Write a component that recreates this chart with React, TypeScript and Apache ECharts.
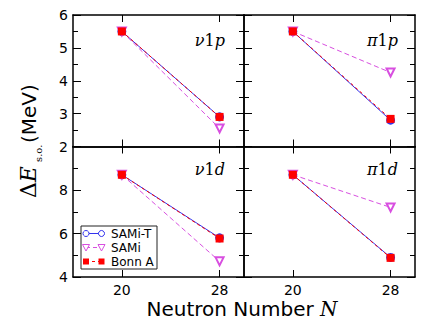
import React, { useEffect, useRef } from "react";
import * as echarts from "echarts";

const neutronNumbers = [20, 28];
const xTickValues = [20, 28];

// nu 1p
const nu1pSamiT = [5.5, 2.9];
const nu1pSami = [5.5, 2.55];
const nu1pBonnA = [5.5, 2.9];
// pi 1p
const pi1pSamiT = [5.5, 2.8];
const pi1pSami = [5.5, 4.25];
const pi1pBonnA = [5.5, 2.84];
// nu 1d
const nu1dSamiT = [8.7, 5.8];
const nu1dSami = [8.7, 4.72];
const nu1dBonnA = [8.7, 5.77];
// pi 1d
const pi1dSamiT = [8.7, 4.9];
const pi1dSami = [8.7, 7.2];
const pi1dBonnA = [8.7, 4.88];

const panelLabels = [
  ["\u03bd", "1", "p"],
  ["\u03c0", "1", "p"],
  ["\u03bd", "1", "d"],
  ["\u03c0", "1", "d"],
];

const legendNames = ["SAMi-T", "SAMi", "Bonn A"];
const topYTicks = [2, 3, 4, 5, 6];
const bottomYTicks = [4, 6, 8];

const BLUE = "#3333ee";
const MAGENTA = "#d84fe0";
const RED = "#ff0000";

export default function App() {
  const ref = useRef<HTMLDivElement>(null);

  useEffect(() => {
    document.body.style.margin = "0";
    const chart = echarts.init(ref.current!, undefined, { renderer: "svg" });

    const grids = [
      { left: 73, top: 15, width: 171, height: 131.5 },
      { left: 244, top: 15, width: 171, height: 131.5 },
      { left: 73, top: 146.5, width: 171, height: 130.5 },
      { left: 244, top: 146.5, width: 171, height: 130.5 },
    ];

    const panels = [
      { samiT: nu1pSamiT, sami: nu1pSami, bonn: nu1pBonnA },
      { samiT: pi1pSamiT, sami: pi1pSami, bonn: pi1pBonnA },
      { samiT: nu1dSamiT, sami: nu1dSami, bonn: nu1dBonnA },
      { samiT: pi1dSamiT, sami: pi1dSami, bonn: pi1dBonnA },
    ];

    const axisLine = { show: true, lineStyle: { color: "#000", width: 1.5 } };
    const tickFont = { fontFamily: "DejaVu Sans", fontSize: 14, color: "#000" };

    const xAxes: any[] = [];
    const yAxes: any[] = [];
    for (let pos = 0; pos < 2; pos++) {
      for (let i = 0; i < 4; i++) {
        const isTopPanel = i < 2;
        xAxes.push({
          type: "value",
          gridIndex: i,
          position: pos === 0 ? "bottom" : "top",
          min: 16,
          max: 30,
          axisLine,
          splitLine: { show: false },
          axisTick: {
            show: true,
            inside: true,
            length: 7,
            customValues: xTickValues,
            lineStyle: { color: "#000", width: 1 },
          },
          axisLabel: {
            show: pos === 0 && !isTopPanel,
            customValues: xTickValues,
            margin: 6,
            ...tickFont,
          },
        });
      }
    }
    for (let pos = 0; pos < 2; pos++) {
      for (let i = 0; i < 4; i++) {
        const isTopPanel = i < 2;
        const isLeftCol = i % 2 === 0;
        yAxes.push({
          type: "value",
          gridIndex: i,
          position: pos === 0 ? "left" : "right",
          min: isTopPanel ? 2 : 4,
          max: isTopPanel ? 6 : 10,
          interval: isTopPanel ? 1 : 2,
          axisLine,
          splitLine: { show: false },
          axisTick: {
            show: true,
            inside: true,
            length: 8,
            lineStyle: { color: "#000", width: 1 },
          },
          minorTick: {
            show: true,
            splitNumber: 2,
            length: 5,
            lineStyle: { color: "#000", width: 1 },
          },
          minorSplitLine: { show: false },
          axisLabel: {
            show: pos === 0 && isLeftCol,
            customValues: isTopPanel ? topYTicks : bottomYTicks,
            margin: 5,
            ...tickFont,
          },
        });
      }
    }

    const series: any[] = [];
    panels.forEach((p, i) => {
      series.push({
        name: legendNames[0],
        type: "line",
        xAxisIndex: i,
        yAxisIndex: i,
        data: neutronNumbers.map((n, k) => [n, p.samiT[k]]),
        symbol: "emptyCircle",
        symbolSize: 7,
        itemStyle: { color: BLUE, borderWidth: 1 },
        lineStyle: { color: BLUE, width: 1 },
        z: 2,
      });
      series.push({
        name: legendNames[1],
        type: "line",
        xAxisIndex: i,
        yAxisIndex: i,
        data: neutronNumbers.map((n, k) => [n, p.sami[k]]),
        symbol: "emptyTriangle",
        symbolRotate: 180,
        symbolSize: 8,
        itemStyle: { color: MAGENTA, borderWidth: 1 },
        lineStyle: { color: MAGENTA, width: 1, type: [5, 3] },
        z: 3,
      });
      series.push({
        name: legendNames[2],
        type: "line",
        xAxisIndex: i,
        yAxisIndex: i,
        data: neutronNumbers.map((n, k) => [n, p.bonn[k]]),
        symbol: "rect",
        symbolSize: 8,
        itemStyle: { color: RED },
        lineStyle: { color: RED, width: 1, type: [3, 3] },
        z: 4,
      });
    });

    const labelPos = [
      { x: 225, y: 40 },
      { x: 398, y: 40 },
      { x: 225, y: 169 },
      { x: 398, y: 169 },
    ];
    const panelTexts = panelLabels.map((l, i) => ({
      type: "text",
      x: labelPos[i].x,
      y: labelPos[i].y,
      style: {
        text: `{i|${l[0]}}{n|${l[1]}}{i|${l[2]}}`,
        align: "right",
        verticalAlign: "middle",
        rich: {
          i: { fontFamily: "DejaVu Serif", fontStyle: "italic", fontSize: 16, fill: "#000" },
          n: { fontFamily: "DejaVu Serif", fontSize: 16, fill: "#000" },
        },
      },
    }));

    // custom legend (marker - line - marker style)
    const lx0 = 86;
    const lx1 = 101.5;
    const rows = [233.5, 247.5, 261.5];
    const tri = (cx: number, cy: number) => [
      [cx - 3.5, cy - 3],
      [cx + 3.5, cy - 3],
      [cx, cy + 3.5],
    ];
    const legendGraphic: any[] = [
      {
        type: "rect",
        z: 100,
        shape: { x: 81, y: 226, width: 76, height: 43 },
        style: { fill: "#fff", stroke: "#222", lineWidth: 1 },
      },
      {
        type: "line",
        z: 101,
        shape: { x1: lx0, y1: rows[0], x2: lx1, y2: rows[0] },
        style: { stroke: BLUE, lineWidth: 1 },
      },
      ...[lx0, lx1].map((cx) => ({
        type: "circle",
        z: 102,
        shape: { cx, cy: rows[0], r: 3 },
        style: { fill: "#fff", stroke: BLUE, lineWidth: 1 },
      })),
      {
        type: "line",
        z: 101,
        shape: { x1: lx0, y1: rows[1], x2: lx1, y2: rows[1] },
        style: { stroke: MAGENTA, lineWidth: 1, lineDash: [4, 3] },
      },
      ...[lx0, lx1].map((cx) => ({
        type: "polygon",
        z: 102,
        shape: { points: tri(cx, rows[1]) },
        style: { fill: "#fff", stroke: MAGENTA, lineWidth: 1 },
      })),
      {
        type: "line",
        z: 101,
        shape: { x1: lx0, y1: rows[2], x2: lx1, y2: rows[2] },
        style: { stroke: RED, lineWidth: 1, lineDash: [3, 3] },
      },
      ...[lx0, lx1].map((cx) => ({
        type: "rect",
        z: 102,
        shape: { x: cx - 3, y: rows[2] - 3, width: 6, height: 6 },
        style: { fill: RED },
      })),
      ...legendNames.map((name, k) => ({
        type: "text",
        z: 102,
        x: 111,
        y: rows[k],
        style: {
          text: name,
          verticalAlign: "middle",
          align: "left",
          fontFamily: "DejaVu Sans",
          fontSize: 12,
          lineHeight: 12,
          fill: "#000",
        },
      })),
    ];

    chart.setOption({
      animation: false,
      grid: grids,
      xAxis: xAxes,
      yAxis: yAxes,
      series,
      graphic: [
        ...panelTexts,
        ...legendGraphic,
        {
          type: "text",
          x: 242,
          y: 309,
          style: {
            text: "{a|Neutron Number }{b|N}",
            align: "center",
            verticalAlign: "middle",
            rich: {
              a: { fontFamily: "DejaVu Sans", fontSize: 20, fill: "#000" },
              b: { fontFamily: "DejaVu Serif", fontStyle: "italic", fontSize: 20, fill: "#000" },
            },
          },
        },
        {
          type: "group",
          x: 28,
          y: 198,
          rotation: Math.PI / 2,
          children: [
            {
              type: "text",
              x: 0,
              y: 0,
              style: {
                text: "{d|\u0394}{e|E}",
                verticalAlign: "middle",
                align: "left",
                rich: {
                  d: { fontFamily: "DejaVu Serif", fontSize: 22, fill: "#000" },
                  e: { fontFamily: "DejaVu Serif", fontStyle: "italic", fontSize: 22, fill: "#000" },
                },
              },
            },
            {
              type: "text",
              x: 36,
              y: 10,
              style: {
                text: "s.o.",
                verticalAlign: "middle",
                align: "left",
                fontFamily: "DejaVu Serif",
                fontSize: 10,
                fill: "#000",
              },
            },
            {
              type: "text",
              x: 55,
              y: 1,
              style: {
                text: "(MeV)",
                verticalAlign: "middle",
                align: "left",
                fontFamily: "DejaVu Sans",
                fontSize: 20,
                fill: "#000",
              },
            },
          ],
        },
      ],
    });

    return () => chart.dispose();
  }, []);

  return <div ref={ref} style={{ width: 436, height: 328 }} />;
}
